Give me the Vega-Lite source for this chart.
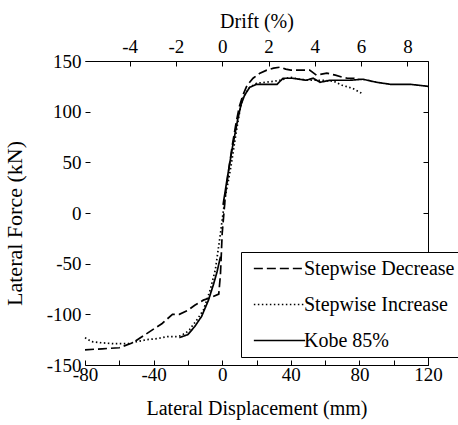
{
  "$schema": "https://vega.github.io/schema/vega-lite/v6.json",
  "width": 343,
  "height": 304,
  "autosize": "none",
  "padding": {"left": 85, "top": 61, "right": 30, "bottom": 60},
  "background": "white",
  "config": {
    "view": {"stroke": null},
    "font": "Liberation Serif, Times New Roman, serif",
    "axis": {
      "labelFont": "Liberation Serif, Times New Roman, serif",
      "titleFont": "Liberation Serif, Times New Roman, serif",
      "labelFontSize": 19,
      "titleFontSize": 20,
      "titleFontWeight": "normal",
      "labelColor": "black",
      "titleColor": "black",
      "domainColor": "black",
      "tickColor": "black",
      "grid": false
    }
  },
  "data": {
    "values": [
      {"s": "Stepwise Decrease", "g": "a", "i": 1, "d": -80, "f": -135},
      {"s": "Stepwise Decrease", "g": "a", "i": 2, "d": -70, "f": -134},
      {"s": "Stepwise Decrease", "g": "a", "i": 3, "d": -60, "f": -133},
      {"s": "Stepwise Decrease", "g": "a", "i": 4, "d": -52, "f": -128},
      {"s": "Stepwise Decrease", "g": "a", "i": 5, "d": -44, "f": -119},
      {"s": "Stepwise Decrease", "g": "a", "i": 6, "d": -35, "f": -109},
      {"s": "Stepwise Decrease", "g": "a", "i": 7, "d": -29, "f": -100},
      {"s": "Stepwise Decrease", "g": "a", "i": 8, "d": -25, "f": -100},
      {"s": "Stepwise Decrease", "g": "a", "i": 9, "d": -20, "f": -96},
      {"s": "Stepwise Decrease", "g": "a", "i": 10, "d": -16, "f": -91},
      {"s": "Stepwise Decrease", "g": "a", "i": 11, "d": -11, "f": -86},
      {"s": "Stepwise Decrease", "g": "a", "i": 12, "d": -6, "f": -83},
      {"s": "Stepwise Decrease", "g": "a", "i": 13, "d": -2, "f": -80},
      {"s": "Stepwise Decrease", "g": "a", "i": 14, "d": -1, "f": -60},
      {"s": "Stepwise Decrease", "g": "a", "i": 15, "d": 0, "f": -20},
      {"s": "Stepwise Decrease", "g": "a", "i": 16, "d": 2, "f": 20},
      {"s": "Stepwise Decrease", "g": "a", "i": 17, "d": 4, "f": 45},
      {"s": "Stepwise Decrease", "g": "a", "i": 18, "d": 6, "f": 68},
      {"s": "Stepwise Decrease", "g": "a", "i": 19, "d": 8, "f": 88},
      {"s": "Stepwise Decrease", "g": "a", "i": 20, "d": 10, "f": 105},
      {"s": "Stepwise Decrease", "g": "a", "i": 21, "d": 12, "f": 116},
      {"s": "Stepwise Decrease", "g": "a", "i": 22, "d": 14.5, "f": 126},
      {"s": "Stepwise Decrease", "g": "a", "i": 23, "d": 18, "f": 133},
      {"s": "Stepwise Decrease", "g": "a", "i": 24, "d": 22, "f": 138},
      {"s": "Stepwise Decrease", "g": "a", "i": 25, "d": 26, "f": 141},
      {"s": "Stepwise Decrease", "g": "a", "i": 26, "d": 30, "f": 143},
      {"s": "Stepwise Decrease", "g": "a", "i": 27, "d": 34, "f": 144},
      {"s": "Stepwise Decrease", "g": "a", "i": 28, "d": 37, "f": 142},
      {"s": "Stepwise Decrease", "g": "a", "i": 29, "d": 40, "f": 141},
      {"s": "Stepwise Decrease", "g": "a", "i": 30, "d": 45, "f": 141},
      {"s": "Stepwise Decrease", "g": "a", "i": 31, "d": 51, "f": 141},
      {"s": "Stepwise Decrease", "g": "a", "i": 32, "d": 55, "f": 136},
      {"s": "Stepwise Decrease", "g": "a", "i": 33, "d": 58, "f": 137},
      {"s": "Stepwise Decrease", "g": "a", "i": 34, "d": 61, "f": 138},
      {"s": "Stepwise Decrease", "g": "a", "i": 35, "d": 66, "f": 136},
      {"s": "Stepwise Decrease", "g": "a", "i": 36, "d": 70, "f": 134},
      {"s": "Stepwise Decrease", "g": "a", "i": 37, "d": 73, "f": 133},
      {"s": "Stepwise Decrease", "g": "a", "i": 38, "d": 77, "f": 133},
      {"s": "Stepwise Decrease", "g": "a", "i": 39, "d": 80, "f": 132},

      {"s": "Stepwise Increase", "g": "b", "i": 1, "d": -80, "f": -123},
      {"s": "Stepwise Increase", "g": "b", "i": 2, "d": -76, "f": -127},
      {"s": "Stepwise Increase", "g": "b", "i": 3, "d": -71, "f": -128},
      {"s": "Stepwise Increase", "g": "b", "i": 4, "d": -63, "f": -129},
      {"s": "Stepwise Increase", "g": "b", "i": 5, "d": -55, "f": -129},
      {"s": "Stepwise Increase", "g": "b", "i": 6, "d": -50, "f": -127},
      {"s": "Stepwise Increase", "g": "b", "i": 7, "d": -44, "f": -125},
      {"s": "Stepwise Increase", "g": "b", "i": 8, "d": -38, "f": -124},
      {"s": "Stepwise Increase", "g": "b", "i": 9, "d": -32, "f": -122},
      {"s": "Stepwise Increase", "g": "b", "i": 10, "d": -27, "f": -122},
      {"s": "Stepwise Increase", "g": "b", "i": 11, "d": -24, "f": -121},
      {"s": "Stepwise Increase", "g": "b", "i": 12, "d": -21, "f": -118},
      {"s": "Stepwise Increase", "g": "b", "i": 13, "d": -19, "f": -115},
      {"s": "Stepwise Increase", "g": "b", "i": 14, "d": -15, "f": -106},
      {"s": "Stepwise Increase", "g": "b", "i": 15, "d": -11, "f": -96},
      {"s": "Stepwise Increase", "g": "b", "i": 16, "d": -7, "f": -76},
      {"s": "Stepwise Increase", "g": "b", "i": 17, "d": -4, "f": -56},
      {"s": "Stepwise Increase", "g": "b", "i": 18, "d": -2.4, "f": -37},
      {"s": "Stepwise Increase", "g": "b", "i": 19, "d": -1, "f": -20},
      {"s": "Stepwise Increase", "g": "b", "i": 20, "d": 0.5, "f": 0},
      {"s": "Stepwise Increase", "g": "b", "i": 21, "d": 2, "f": 18},
      {"s": "Stepwise Increase", "g": "b", "i": 22, "d": 3.4, "f": 30},
      {"s": "Stepwise Increase", "g": "b", "i": 23, "d": 5, "f": 45},
      {"s": "Stepwise Increase", "g": "b", "i": 24, "d": 6.3, "f": 59},
      {"s": "Stepwise Increase", "g": "b", "i": 25, "d": 8, "f": 78},
      {"s": "Stepwise Increase", "g": "b", "i": 26, "d": 9.2, "f": 90},
      {"s": "Stepwise Increase", "g": "b", "i": 27, "d": 10.5, "f": 103},
      {"s": "Stepwise Increase", "g": "b", "i": 28, "d": 12, "f": 113},
      {"s": "Stepwise Increase", "g": "b", "i": 29, "d": 14, "f": 119},
      {"s": "Stepwise Increase", "g": "b", "i": 30, "d": 16, "f": 124},
      {"s": "Stepwise Increase", "g": "b", "i": 31, "d": 20, "f": 128},
      {"s": "Stepwise Increase", "g": "b", "i": 32, "d": 25, "f": 129},
      {"s": "Stepwise Increase", "g": "b", "i": 33, "d": 30, "f": 130},
      {"s": "Stepwise Increase", "g": "b", "i": 34, "d": 34, "f": 131},
      {"s": "Stepwise Increase", "g": "b", "i": 35, "d": 39.5, "f": 134},
      {"s": "Stepwise Increase", "g": "b", "i": 36, "d": 45, "f": 132},
      {"s": "Stepwise Increase", "g": "b", "i": 37, "d": 51, "f": 131},
      {"s": "Stepwise Increase", "g": "b", "i": 38, "d": 58, "f": 131},
      {"s": "Stepwise Increase", "g": "b", "i": 39, "d": 65, "f": 130},
      {"s": "Stepwise Increase", "g": "b", "i": 40, "d": 70, "f": 126},
      {"s": "Stepwise Increase", "g": "b", "i": 41, "d": 76, "f": 123},
      {"s": "Stepwise Increase", "g": "b", "i": 42, "d": 81.5, "f": 118},

      {"s": "Kobe 85%", "g": "c1", "i": 1, "d": -25, "f": -123},
      {"s": "Kobe 85%", "g": "c1", "i": 2, "d": -20, "f": -120},
      {"s": "Kobe 85%", "g": "c1", "i": 3, "d": -16, "f": -112},
      {"s": "Kobe 85%", "g": "c1", "i": 4, "d": -12, "f": -102},
      {"s": "Kobe 85%", "g": "c1", "i": 5, "d": -8, "f": -86},
      {"s": "Kobe 85%", "g": "c1", "i": 6, "d": -5, "f": -70},
      {"s": "Kobe 85%", "g": "c1", "i": 7, "d": -3, "f": -58},
      {"s": "Kobe 85%", "g": "c1", "i": 8, "d": -1, "f": -43},
      {"s": "Kobe 85%", "g": "c2", "i": 9, "d": 0.5, "f": 8},
      {"s": "Kobe 85%", "g": "c2", "i": 10, "d": 3, "f": 35},
      {"s": "Kobe 85%", "g": "c2", "i": 11, "d": 6, "f": 65},
      {"s": "Kobe 85%", "g": "c2", "i": 12, "d": 9, "f": 92},
      {"s": "Kobe 85%", "g": "c2", "i": 13, "d": 11, "f": 107},
      {"s": "Kobe 85%", "g": "c2", "i": 14, "d": 13, "f": 116},
      {"s": "Kobe 85%", "g": "c2", "i": 15, "d": 16, "f": 124},
      {"s": "Kobe 85%", "g": "c2", "i": 16, "d": 20, "f": 127},
      {"s": "Kobe 85%", "g": "c2", "i": 17, "d": 26, "f": 127},
      {"s": "Kobe 85%", "g": "c2", "i": 18, "d": 32, "f": 127},
      {"s": "Kobe 85%", "g": "c2", "i": 19, "d": 35.5, "f": 133},
      {"s": "Kobe 85%", "g": "c2", "i": 20, "d": 41, "f": 133},
      {"s": "Kobe 85%", "g": "c2", "i": 21, "d": 45, "f": 132},
      {"s": "Kobe 85%", "g": "c2", "i": 22, "d": 49, "f": 131},
      {"s": "Kobe 85%", "g": "c2", "i": 23, "d": 53, "f": 133},
      {"s": "Kobe 85%", "g": "c2", "i": 24, "d": 57, "f": 129},
      {"s": "Kobe 85%", "g": "c2", "i": 25, "d": 63, "f": 131},
      {"s": "Kobe 85%", "g": "c2", "i": 26, "d": 69, "f": 131},
      {"s": "Kobe 85%", "g": "c2", "i": 27, "d": 74.5, "f": 131},
      {"s": "Kobe 85%", "g": "c2", "i": 28, "d": 82, "f": 132},
      {"s": "Kobe 85%", "g": "c2", "i": 29, "d": 90, "f": 129},
      {"s": "Kobe 85%", "g": "c2", "i": 30, "d": 98, "f": 127},
      {"s": "Kobe 85%", "g": "c2", "i": 31, "d": 104, "f": 127},
      {"s": "Kobe 85%", "g": "c2", "i": 32, "d": 109.5, "f": 127},
      {"s": "Kobe 85%", "g": "c2", "i": 33, "d": 115, "f": 126},
      {"s": "Kobe 85%", "g": "c2", "i": 34, "d": 120, "f": 125}
    ]
  },
  "layer": [
    {
      "mark": {"type": "line", "strokeWidth": 1.7, "color": "black"},
      "encoding": {
        "x": {
          "field": "d", "type": "quantitative",
          "scale": {"domain": [-80, 120], "nice": false, "zero": false},
          "axis": {
            "orient": "bottom",
            "title": "Lateral Displacement (mm)",
            "values": [-80, -60, -40, -20, 0, 20, 40, 60, 80, 100, 120],
            "labelExpr": "datum.value % 40 == 0 ? '' + datum.value : ''",
            "tickSize": -5,
            "labelPadding": 5,
            "titlePadding": 14,
            "labelFlush": false
          }
        },
        "y": {
          "field": "f", "type": "quantitative",
          "scale": {"domain": [-150, 150], "nice": false, "zero": false},
          "axis": {
            "orient": "left",
            "title": "Lateral Force (kN)",
            "titleFontSize": 22,
            "titleY": 162,
            "values": [-150, -100, -50, 0, 50, 100, 150],
            "labelExpr": "'' + datum.value",
            "domain": false,
            "tickSize": -5,
            "labelPadding": 9,
            "titlePadding": 20,
            "labelFlush": false
          }
        },
        "strokeDash": {
          "field": "s", "type": "nominal",
          "scale": {
            "domain": ["Stepwise Decrease", "Stepwise Increase", "Kobe 85%"],
            "range": [[9, 4], [1.5, 2.5], [1, 0]]
          },
          "legend": {
            "title": null,
            "orient": "none",
            "legendX": 156,
            "legendY": 191,
            "fillColor": "white",
            "strokeColor": "black",
            "padding": 6,
            "symbolType": "M-2.7,0H2.7",
            "symbolSize": 361,
            "symbolStrokeWidth": 1.6,
            "symbolStrokeColor": "black",
            "symbolOffset": 22,
            "labelFont": "Liberation Serif, Times New Roman, serif",
            "labelFontSize": 20,
            "labelColor": "black",
            "labelOffset": 14,
            "rowPadding": 15,
            "labelLimit": 300
          }
        },
        "detail": {"field": "g"},
        "order": {"field": "i", "type": "quantitative"}
      }
    },
    {
      "mark": {"type": "point", "opacity": 0},
      "encoding": {
        "x": {
          "field": "d", "type": "quantitative",
          "axis": {
            "orient": "top",
            "title": "Drift (%)",
            "values": [-54, -27, 0, 27, 54, 81, 108],
            "labelExpr": "'' + (datum.value / 13.5)",
            "tickSize": -5,
            "labelPadding": 10,
            "titlePadding": 6,
            "labelFlush": false
          }
        },
        "y": {
          "field": "f", "type": "quantitative",
          "axis": {
            "orient": "right",
            "title": null,
            "values": [-150, -100, -50, 0, 50, 100, 150],
            "labels": false,
            "tickSize": -5
          }
        }
      }
    }
  ],
  "resolve": {"axis": {"x": "independent", "y": "independent"}}
}
